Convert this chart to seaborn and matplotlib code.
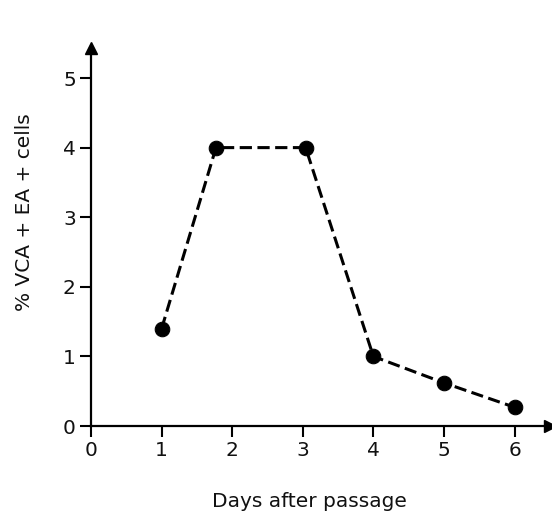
import pandas as pd
import seaborn as sns
import matplotlib.pyplot as plt

# values
days = [1.0, 1.77, 3.04, 4.0, 5.0, 6.0]
pct_cells = [1.4, 4.0, 4.0, 1.0, 0.62, 0.27]
x_ticks = [0, 1, 2, 3, 4, 5, 6]
y_ticks = [0, 1, 2, 3, 4, 5]

df = pd.DataFrame({'day': days, 'pct': pct_cells})

sns.set_style('ticks')
plt.rcParams['font.family'] = ['DejaVu Sans']

fig = plt.figure(figsize=(5.52, 5.17), dpi=100)
ax = fig.add_axes([0.165, 0.176, 0.831, 0.731])

sns.lineplot(data=df, x='day', y='pct', ax=ax, color='black', linewidth=2.2,
             marker='o', markersize=10.5, markeredgecolor='black',
             linestyle=(0, (4.0, 1.8)), clip_on=False)

ax.set_xlim(0, 6.5)
ax.set_ylim(0, 5.43)
ax.set_xticks(x_ticks)
ax.set_yticks(y_ticks)
ax.tick_params(axis='both', labelsize=14.5, length=8, width=1.5, color='black',
               labelcolor='#111111', pad=3)

# only the left and bottom axes, with arrow heads
sns.despine(ax=ax)
for side in ['left', 'bottom']:
    ax.spines[side].set_linewidth(1.6)
    ax.spines[side].set_color('black')
ax.plot(1, 0, '>', color='black', markersize=8, transform=ax.transAxes, clip_on=False)
ax.plot(0, 1, '^', color='black', markersize=8, transform=ax.transAxes, clip_on=False)

ax.set_xlabel('Days after passage', fontsize=14.5, color='#111111')
ax.set_ylabel('% VCA + EA + cells', fontsize=14.5, color='#111111')
ax.xaxis.set_label_coords(0.475, -0.175)
ax.yaxis.set_label_coords(-0.124, 0.566)

fig.savefig('out.png', dpi=100)
